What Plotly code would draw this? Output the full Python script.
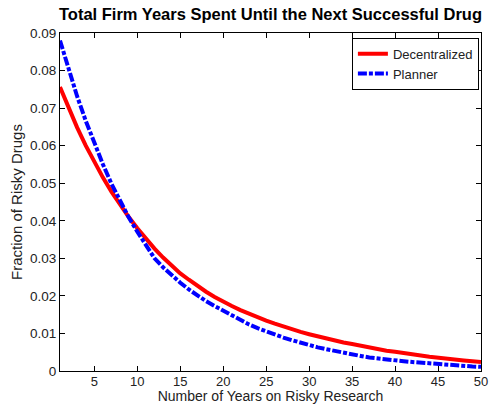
import plotly.graph_objects as go

years = list(range(1, 51))

decentralized = [
    0.0756, 0.0700, 0.0648, 0.0600, 0.0556, 0.0515, 0.0477, 0.0442, 0.0410, 0.0380,
    0.0352, 0.0326, 0.0302, 0.0280, 0.0260, 0.0243, 0.0226, 0.0211, 0.0197, 0.0184,
    0.0173, 0.0162, 0.0152, 0.0143, 0.0134, 0.0126, 0.0118, 0.0111, 0.0104, 0.0098,
    0.0092, 0.0086, 0.0081, 0.0076, 0.0072, 0.0067, 0.0063, 0.0058, 0.0054, 0.0051,
    0.0047, 0.0044, 0.0041, 0.0038, 0.0035, 0.0033, 0.0030, 0.0028, 0.0026, 0.0024,
]

planner = [
    0.0880, 0.0802, 0.0731, 0.0666, 0.0607, 0.0550, 0.0498, 0.0452, 0.0409, 0.0371,
    0.0334, 0.0300, 0.0276, 0.0255, 0.0235, 0.0217, 0.0201, 0.0186, 0.0173, 0.0160,
    0.0147, 0.0135, 0.0124, 0.0114, 0.0105, 0.0097, 0.0089, 0.0082, 0.0075, 0.0069,
    0.0063, 0.0058, 0.0053, 0.0048, 0.0044, 0.0040, 0.0036, 0.0033, 0.0030, 0.0028,
    0.0026, 0.0024, 0.0022, 0.0020, 0.0019, 0.0017, 0.0015, 0.0014, 0.0012, 0.0011,
]

x_ticks = [5, 10, 15, 20, 25, 30, 35, 40, 45, 50]
y_ticks = [0, 0.01, 0.02, 0.03, 0.04, 0.05, 0.06, 0.07, 0.08, 0.09]
y_tick_text = ["0", "0.01", "0.02", "0.03", "0.04", "0.05", "0.06", "0.07", "0.08", "0.09"]

FONT = "Liberation Sans, Arial, Helvetica, sans-serif"

fig = go.Figure()
fig.add_trace(go.Scatter(
    x=years, y=decentralized, mode="lines", name="Decentralized",
    line=dict(color="#ff0000", width=4),
))
fig.add_trace(go.Scatter(
    x=years, y=planner, mode="lines", name="Planner",
    line=dict(color="#0000ff", width=4, dash="9px,2px,4px,2px"),
))

axis_common = dict(
    showline=True, linecolor="black", linewidth=1, mirror="ticks",
    ticks="inside", ticklen=5, tickcolor="black", tickwidth=1,
    showgrid=False, zeroline=False, automargin=False,
)

fig.update_layout(
    width=493, height=404,
    margin=dict(l=60, r=12, t=33, b=33),
    paper_bgcolor="white", plot_bgcolor="white",
    font=dict(family=FONT, color="black"),
    title=dict(
        text="<b>Total Firm Years Spent Until the Next Successful Drug</b>",
        xref="paper", x=0.5, xanchor="center",
        yref="container", y=0.966, yanchor="middle",
        font=dict(family=FONT, size=16.5, color="black"),
    ),
    xaxis=dict(
        range=[1, 50], tickvals=x_ticks,
        tickfont=dict(family=FONT, size=13, color="#222222"),
        ticklabelstandoff=-2,
        title=dict(text="Number of Years on Risky Research", standoff=3,
                   font=dict(family=FONT, size=14, color="#222222")),
        **axis_common,
    ),
    yaxis=dict(
        range=[0, 0.09], tickvals=y_ticks, ticktext=y_tick_text,
        tickfont=dict(family=FONT, size=13.5, color="#222222"),
        title=dict(text="Fraction of Risky Drugs", standoff=3,
                   font=dict(family=FONT, size=15, color="#222222")),
        **axis_common,
    ),
    legend=dict(
        x=0.995, xanchor="right", y=0.986, yanchor="top",
        bgcolor="white", bordercolor="black", borderwidth=1,
        font=dict(family=FONT, size=13, color="#222222"),
        itemwidth=30, tracegroupgap=0,
    ),
    showlegend=True,
)

fig.write_html("out.html")
